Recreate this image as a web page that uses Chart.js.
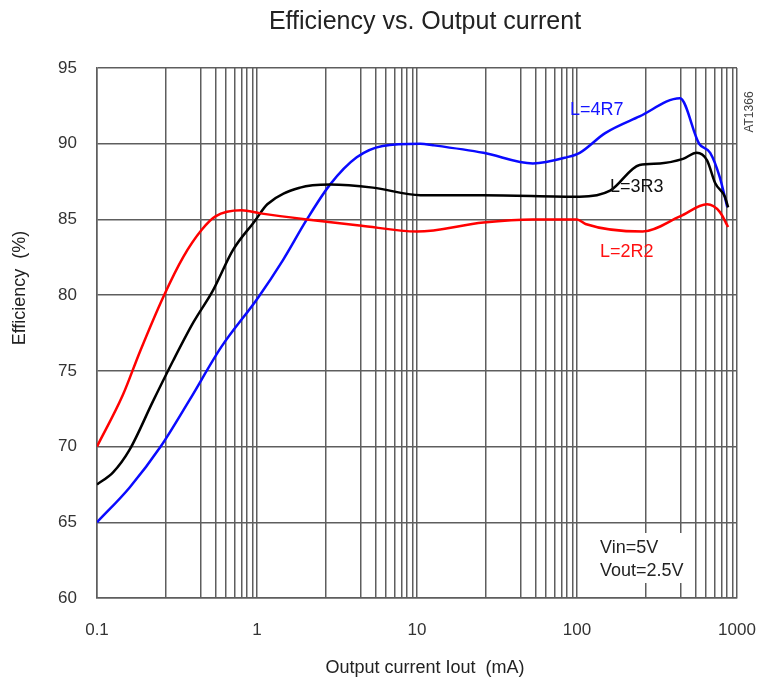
<!DOCTYPE html>
<html>
<head>
<meta charset="utf-8">
<style>
  body { margin: 0; background: #fff; }
  #wrap { width: 761px; height: 686px; }
</style>
</head>
<body>
<div id="wrap"><canvas id="effChart" width="761" height="686"></canvas></div>

<script src="https://cdn.jsdelivr.net/npm/chart.js"></script>
<script>
// values (x = output current in mA, y = efficiency in %)
const current2R2 = [0.1, 0.145, 0.186, 0.26, 0.345, 0.45, 0.55, 0.8, 1.05, 2.05, 4.4, 10, 26, 53, 100, 113, 257, 440, 650, 780, 880];
const eff2R2     = [70, 73.4, 76.3, 79.9, 82.5, 84.3, 85.2, 85.6, 85.4, 85.0, 84.6, 84.2, 84.8, 85.0, 85.0, 84.7, 84.2, 85.2, 86.0, 85.5, 84.5];

const current3R3 = [0.1, 0.126, 0.16, 0.224, 0.3, 0.4, 0.53, 0.71, 0.97, 1.16, 1.86, 2.86, 5.3, 10.5, 26, 104, 161, 246, 330, 460, 560, 650, 730, 840, 880];
const eff3R3     = [67.5, 68.3, 69.8, 73.0, 75.7, 78.2, 80.3, 83.0, 84.9, 86.0, 87.1, 87.3, 87.1, 86.6, 86.6, 86.5, 86.9, 88.6, 88.7, 89.0, 89.4, 88.9, 87.4, 86.5, 85.8];

const current4R7 = [0.1, 0.16, 0.25, 0.38, 0.6, 1.01, 1.45, 2.05, 2.86, 4.2, 6.1, 10.5, 12.6, 26, 53, 86, 104, 150, 246, 440, 580, 680, 780, 870];
const eff4R7     = [65, 67.3, 70, 73.1, 76.6, 79.8, 82.3, 85.0, 87.3, 89.1, 89.85, 90, 89.9, 89.4, 88.7, 89.1, 89.4, 90.7, 91.8, 93.0, 90.0, 89.4, 87.8, 85.8];

// axis ticks (the printed grid inside each decade is not at 2,3,...9 — positions)
const xDecades = [0.1, 1, 10, 100];
const xLastTick = 1000;
const xLabels = ['0.1', '1', '10', '100', '1000'];
const xGridMultipliers = [1, 2.7, 4.45, 5.55, 6.4, 7.25, 8.0, 8.65, 9.35];
const yTicks = [60, 65, 70, 75, 80, 85, 90, 95];

const xTickValues = [];
xDecades.forEach(d => { xGridMultipliers.forEach(m => xTickValues.push(d * m)); });
xTickValues.push(xLastTick);
const xLabelValues = xDecades.concat([xLastTick]);

function pairs(xs, ys) {
    return xs.map((x, i) => ({ x: x, y: ys[i] }));
}

const FONT = '"Liberation Sans", Arial, sans-serif';
const gridColor = '#5e5e5e';

const textPlugin = {
    id: 'textPlugin',
    beforeDatasetsDraw(chart) {
        // white box behind the Vin/Vout note (cuts the grid lines there)
        const ctx = chart.ctx;
        ctx.save();
        ctx.fillStyle = '#fff';
        ctx.fillRect(592, 533, 96, 50);
        ctx.restore();
    },
    afterDraw(chart) {
        const ctx = chart.ctx;
        ctx.save();
        ctx.textBaseline = 'middle';

        ctx.fillStyle = '#222';
        ctx.textAlign = 'center';
        ctx.font = '25px ' + FONT;
        ctx.fillText('Efficiency vs. Output current', 425, 22);

        ctx.font = '18px ' + FONT;
        ctx.fillText('Output current Iout  (mA)', 425, 668);

        ctx.save();
        ctx.translate(20, 288);
        ctx.rotate(-Math.PI / 2);
        ctx.fillText('Efficiency  (%)', 0, 0);
        ctx.restore();

        ctx.save();
        ctx.font = '12px ' + FONT;
        ctx.fillStyle = '#444';
        ctx.translate(750, 112);
        ctx.rotate(-Math.PI / 2);
        ctx.fillText('AT1366', 0, 0);
        ctx.restore();

        ctx.textAlign = 'left';
        ctx.font = '18px ' + FONT;
        ctx.fillStyle = '#1414ff';
        ctx.fillText('L=4R7', 570, 110);
        ctx.fillStyle = '#111';
        ctx.fillText('L=3R3', 610, 187);
        ctx.fillStyle = '#ff1010';
        ctx.fillText('L=2R2', 600, 252);

        ctx.fillStyle = '#222';
        ctx.fillText('Vin=5V', 600, 548);
        ctx.fillText('Vout=2.5V', 600, 571);
        ctx.restore();
    }
};

new Chart(document.getElementById('effChart'), {
    type: 'line',
    data: {
        datasets: [
            { label: 'L=2R2', data: pairs(current2R2, eff2R2), borderColor: '#ff0000' },
            { label: 'L=3R3', data: pairs(current3R3, eff3R3), borderColor: '#000000' },
            { label: 'L=4R7', data: pairs(current4R7, eff4R7), borderColor: '#0a0aff' }
        ]
    },
    options: {
        responsive: false,
        animation: false,
        layout: { padding: { top: 68, right: 24, left: 0, bottom: 0 } },
        elements: {
            point: { radius: 0 },
            line: { borderWidth: 2.5, cubicInterpolationMode: 'monotone', fill: false }
        },
        plugins: {
            legend: { display: false },
            title: { display: false },
            tooltip: { enabled: false }
        },
        scales: {
            x: {
                type: 'logarithmic',
                min: 0.1,
                max: 1000,
                afterBuildTicks: scale => { scale.ticks = xTickValues.map(v => ({ value: v })); },
                afterFit: scale => {
                    scale.height = 88;
                    scale.paddingLeft = 0;
                    scale.paddingRight = 0;
                },
                ticks: {
                    autoSkip: false,
                    maxRotation: 0,
                    padding: 22,
                    color: '#333',
                    font: { family: FONT, size: 17 },
                    callback: function (value) {
                        const i = xLabelValues.findIndex(d => Math.abs(d - value) < d * 1e-6);
                        return i >= 0 ? xLabels[i] : '';
                    }
                },
                grid: { color: gridColor, lineWidth: 1.5, drawTicks: false },
                border: { color: gridColor, width: 1.5 }
            },
            y: {
                min: 60,
                max: 95,
                afterBuildTicks: scale => { scale.ticks = yTicks.map(v => ({ value: v })); },
                afterFit: scale => { scale.width = 97; },
                ticks: {
                    padding: 20,
                    color: '#333',
                    font: { family: FONT, size: 17 }
                },
                grid: { color: gridColor, lineWidth: 1.5, drawTicks: false },
                border: { color: gridColor, width: 1.5 }
            }
        }
    },
    plugins: [textPlugin]
});
</script>
</body>
</html>
